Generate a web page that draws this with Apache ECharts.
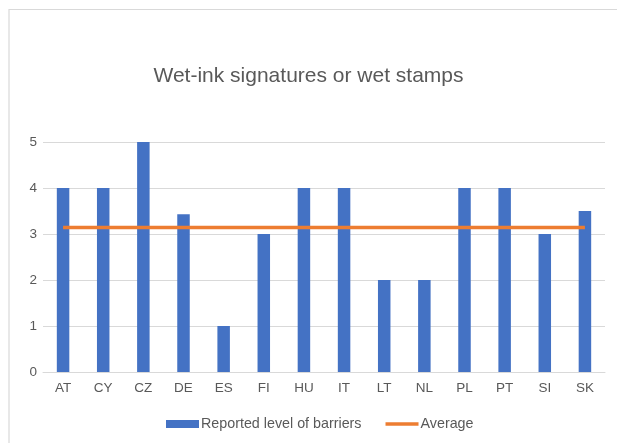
<!DOCTYPE html>
<html><head><meta charset="utf-8">
<script src="https://cdn.jsdelivr.net/npm/echarts@6/dist/echarts.min.js"></script>
<style>html,body{margin:0;padding:0;background:#fff}#c{width:617px;height:443px}</style>
</head><body><div id="c"></div>
<script>
const categories = ['AT','CY','CZ','DE','ES','FI','HU','IT','LT','NL','PL','PT','SI','SK'];
const barrierValues = [4,4,5,3.43,1,3,4,4,2,2,4,4,3,3.5];
const averageValue = 3.14;
const averageValues = categories.map(() => averageValue);
const yTicks = [0,1,2,3,4,5];

const chart = echarts.init(document.getElementById('c'), null, {renderer:'canvas'});
const font = 'Liberation Sans, Arial, sans-serif';
chart.setOption({
  animation:false,
  backgroundColor:'#fff',
  graphic:[{type:'rect',shape:{x:9,y:9.5,width:700,height:500},style:{fill:'none',stroke:'#d9d9d9',lineWidth:1.2},silent:true}],
  title:{text:'Wet-ink signatures or wet stamps',left:'center',top:61,
    textStyle:{fontFamily:font,fontSize:21,fontWeight:'normal',color:'#595959'}},
  grid:{left:43,right:12,top:142,bottom:71},
  legend:{bottom:7,left:161,itemGap:24,itemWidth:33,itemHeight:8,
    textStyle:{fontFamily:font,fontSize:14.3,color:'#595959',padding:[0,0,0,-3]},
    data:[{name:'Reported level of barriers',icon:'rect'},
          {name:'Average',icon:'path://M0,0 L33,0 L33,3.5 L0,3.5 Z',itemStyle:{color:'#ED7D31'}}]},
  xAxis:{type:'category',data:categories,
    axisLine:{lineStyle:{color:'#d9d9d9',width:1}},axisTick:{show:false},
    axisLabel:{color:'#595959',fontFamily:font,fontSize:13.5,margin:9}},
  yAxis:{type:'value',min:0,max:5,interval:1,
    axisLine:{show:false},axisTick:{show:false},
    splitLine:{lineStyle:{color:'#d9d9d9',width:1}},
    axisLabel:{color:'#595959',fontFamily:font,fontSize:13.5,margin:6,
      formatter:v=>yTicks.includes(v)?String(v):''}},
  series:[
    {name:'Reported level of barriers',type:'bar',data:barrierValues,barWidth:12.5,
      itemStyle:{color:'#4472C4'}},
    {name:'Average',type:'line',data:averageValues,symbol:'none',
      lineStyle:{color:'#ED7D31',width:3.5},itemStyle:{color:'#ED7D31'}}
  ]
});
</script></body></html>
